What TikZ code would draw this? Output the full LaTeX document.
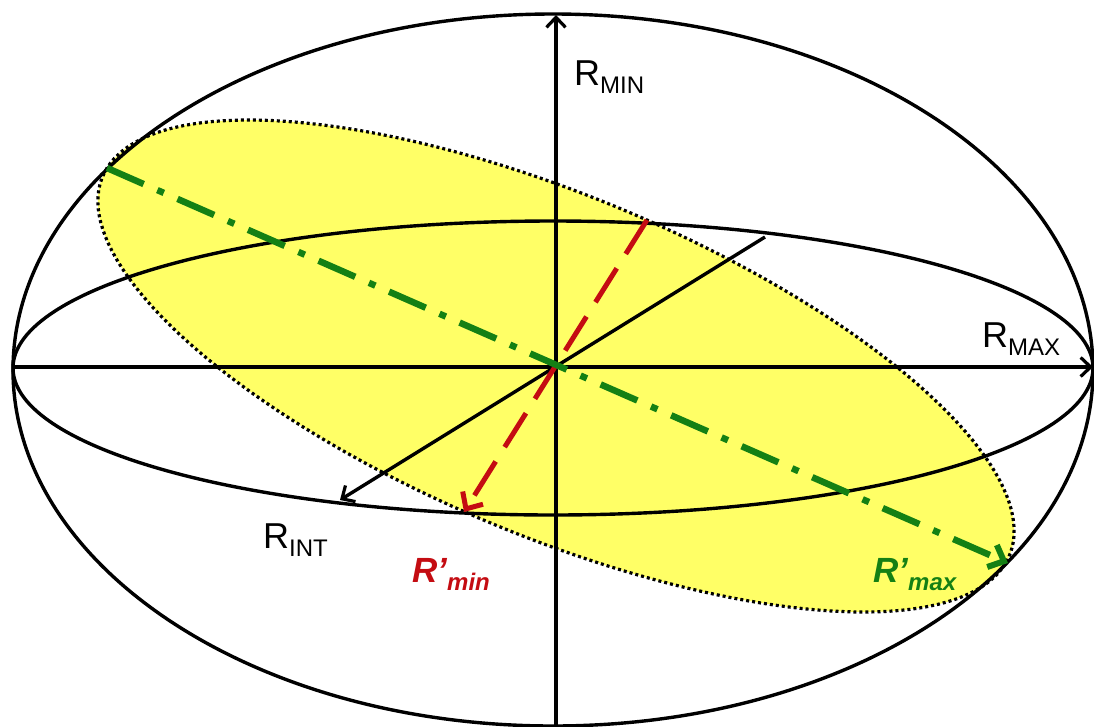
\documentclass[tikz,border=0pt]{standalone}
\usepackage{fontspec}
\setmainfont{Liberation Sans}
\usetikzlibrary{arrows.meta}
\definecolor{ylw}{RGB}{255,255,102}
\definecolor{dgreen}{RGB}{20,128,20}
\definecolor{dred}{RGB}{196,12,18}
\tikzset{
  blk/.style={line width=3.4pt, black},
  blkarrow/.style={blk, -{Straight Barb[length=10pt,width=19pt,line width=3.2pt]}},
  greenline/.style={dgreen, line width=6.5pt, dash pattern=on 40pt off 15pt on 7pt off 15pt,
     -{Straight Barb[length=13pt,width=24pt,line width=6pt]}},
  redline/.style={dred, line width=5pt, dash pattern=on 40pt off 17pt,
     -{Straight Barb[length=13pt,width=24pt,line width=5pt]}},
  dotline/.style={line width=3.2pt, dash pattern=on 3pt off 3pt, black},
  lbl/.style={inner sep=0pt, anchor=base west},
}
\newcommand{\bigR}{\fontsize{36}{36}\selectfont R}
\newcommand{\subtxt}[1]{\raisebox{-8pt}{\fontsize{24}{24}\selectfont #1}}
\newcommand{\bigRp}{\fontsize{35}{35}\selectfont\bfseries\itshape R’}
\newcommand{\subit}[1]{\raisebox{-8pt}{\fontsize{24}{24}\selectfont\bfseries\itshape #1}}
\begin{document}
\begin{tikzpicture}[x=1pt,y=-1pt]
\useasboundingbox (0,0) rectangle (1094,726);
% named points
\coordinate (O) at (556,367);
\coordinate (left) at (13,367);
\coordinate (right) at (1093,367);
\coordinate (bottom) at (556,740);
\coordinate (top) at (556,15);
\coordinate (intA) at (765,237);
\coordinate (intB) at (340,500);
\coordinate (gA) at (107,168);
\coordinate (gB) at (1008,563);
\coordinate (rA) at (647,220);
\coordinate (rB) at (464,512);
% yellow ellipse (fill)
\fill[ylw] plot[domain=0:358, samples=180] ({556-449*cos(\x)-91*sin(\x)},{366-198*cos(\x)+146*sin(\x)}) -- cycle;
% outer and inner ellipses
\draw[blk] (553,370) ellipse [x radius=540pt, y radius=356pt];
\draw[blk] (553,368) ellipse [x radius=540pt, y radius=147pt];
% dotted outline
\draw[dotline] plot[domain=0:358, samples=180] ({556-449*cos(\x)-91*sin(\x)},{366-198*cos(\x)+146*sin(\x)}) -- cycle;
% axes
\draw[blkarrow] (left) -- (right);
\draw[blkarrow] (bottom) -- (top);
\draw[blkarrow] (intA) -- (intB);
% R' lines
\draw[redline] (rA) -- (rB);
\draw[greenline] (gA) -- (gB);
% labels
\node[lbl] (lmin) at (574,85) {\bigR\subtxt{MIN}};
\node[lbl] (lmax) at (982,347) {\bigR\subtxt{MAX}};
\node[lbl] (lint) at (263,548) {\bigR\subtxt{INT}};
\node[lbl, text=dred] (lrmin) at (412,582) {\bigRp\subit{min}};
\node[lbl, text=dgreen] (lrmax) at (873,582) {\bigRp\subit{max}};
\end{tikzpicture}
\end{document}
